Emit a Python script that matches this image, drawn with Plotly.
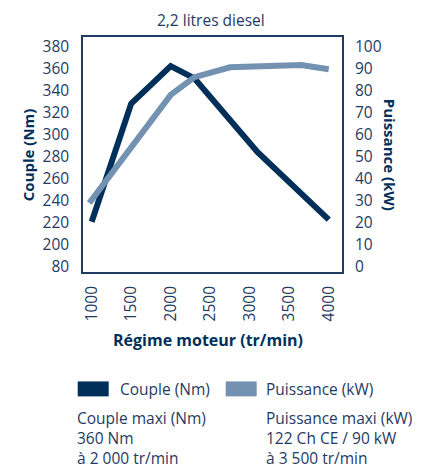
import plotly.graph_objects as go

# ---- data ----
rpm_couple = [1000, 1500, 2000, 2300, 3100, 4000]
couple_nm = [221, 328, 362, 351, 284, 223]

rpm_power = [970, 2000, 2300, 2750, 3650, 4000]
power_kw = [29, 78, 86, 90.5, 91.5, 89.6]

x_ticks = [1000, 1500, 2000, 2500, 3000, 3500, 4000]
left_tickvals = [180, 200, 220, 240, 260, 280, 300, 320, 340, 360, 380]
left_ticktext = ["80", "200", "220", "240", "260", "280", "300", "320", "340", "360", "380"]
right_ticks = [0, 10, 20, 30, 40, 50, 60, 70, 80, 90, 100]

DARK = "#00305a"
LIGHT = "#7391b1"
TXT = "#1f3b63"
FONT = "Open Sans"

L, R, T, B = 83.3, 342.3, 36.7, 272.3
W, H = 422, 471

def px(xp):
    return (xp - L) / (R - L)

def py(yp):
    return (B - yp) / (B - T)

fig = go.Figure()
fig.add_trace(go.Scatter(x=rpm_power, y=power_kw, mode="lines", yaxis="y2",
                         line=dict(color=LIGHT, width=6), name="Puissance (kW)"))
fig.add_trace(go.Scatter(x=rpm_couple, y=couple_nm, mode="lines",
                         line=dict(color=DARK, width=6), name="Couple (Nm)"))

ylo, yhi = 175.5, 388.4
fig.update_layout(
    width=W, height=H,
    margin=dict(l=L, r=W - R, t=T, b=H - B),
    paper_bgcolor="white", plot_bgcolor="white",
    showlegend=False,
    font=dict(family=FONT, color=TXT, size=15),
    xaxis=dict(range=[890, 4168], tickvals=x_ticks, tickangle=-90,
               showgrid=False, zeroline=False, showline=True, mirror=True,
               linecolor=TXT, linewidth=1.5, ticks="", ticklabelstandoff=6,
               tickfont=dict(size=15.5, color=TXT)),
    yaxis=dict(range=[ylo, yhi], tickvals=left_tickvals, ticktext=left_ticktext,
               showgrid=False, zeroline=False, showline=True, mirror=True,
               linecolor=TXT, linewidth=1.5, ticks="", ticklabelstandoff=9,
               tickfont=dict(size=15.5, color=TXT)),
    yaxis2=dict(range=[(ylo - 180) / 2, (yhi - 180) / 2], tickvals=right_ticks,
                overlaying="y", side="right", showgrid=False, zeroline=False,
                showline=False, ticks="", ticklabelstandoff=12,
                tickfont=dict(size=15.5, color=TXT)),
)

ann = []
ann.append(dict(text="2,2 litres diesel", x=px(211.5), y=py(20), xref="paper", yref="paper",
                showarrow=False, font=dict(size=15.5, color=TXT), xanchor="center", yanchor="middle"))
ann.append(dict(text="<b>Couple (Nm)</b>", x=px(28), y=py(154.5), xref="paper", yref="paper",
                showarrow=False, textangle=-90, font=dict(size=15, color=DARK),
                xanchor="center", yanchor="middle"))
ann.append(dict(text="<b>Puissance (kW)</b>", x=px(391), y=py(154.5), xref="paper", yref="paper",
                showarrow=False, textangle=90, font=dict(size=15, color=DARK),
                xanchor="center", yanchor="middle"))
ann.append(dict(text="<b>Régime moteur (tr/min)</b>", x=px(208), y=py(340), xref="paper", yref="paper",
                showarrow=False, font=dict(size=16, color=DARK), xanchor="center", yanchor="middle"))
ann.append(dict(text="Couple (Nm)", x=px(118), y=py(390), xref="paper", yref="paper",
                showarrow=False, font=dict(size=15.5, color=TXT), xanchor="left", yanchor="middle"))
ann.append(dict(text="Puissance (kW)", x=px(264), y=py(390), xref="paper", yref="paper",
                showarrow=False, font=dict(size=15.5, color=TXT), xanchor="left", yanchor="middle"))

ann.append(dict(text="Couple maxi (Nm)<br>360 Nm<br>à 2 000 tr/min", x=px(76), y=py(471),
                xref="paper", yref="paper", showarrow=False, font=dict(size=15.5, color=TXT),
                xanchor="left", yanchor="bottom", align="left", borderpad=0))
ann.append(dict(text="Puissance maxi (kW)<br>122 Ch CE / 90 kW<br>à 3 500 tr/min", x=px(265), y=py(471),
                xref="paper", yref="paper", showarrow=False, font=dict(size=15.5, color=TXT),
                xanchor="left", yanchor="bottom", align="left", borderpad=0))
fig.update_layout(annotations=ann)

fig.add_shape(type="rect", xref="paper", yref="paper", x0=px(78), x1=px(109), y0=py(397), y1=py(382),
              fillcolor=DARK, line=dict(width=0))
fig.add_shape(type="rect", xref="paper", yref="paper", x0=px(226), x1=px(257), y0=py(397), y1=py(382),
              fillcolor=LIGHT, line=dict(width=0))

fig.write_html("out.html", config={"displayModeBar": False},
               post_script="document.body.style.margin='0';")
